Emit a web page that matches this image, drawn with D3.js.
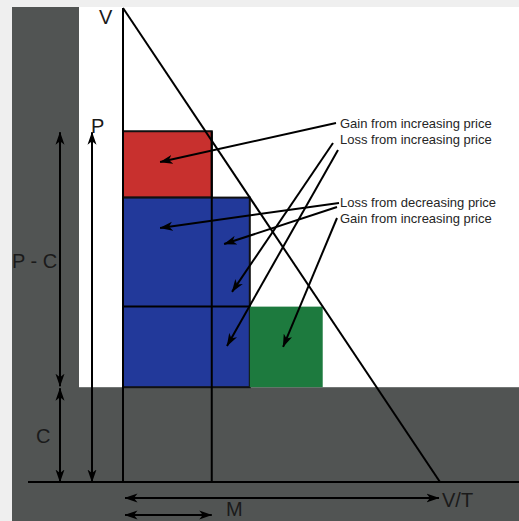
<!DOCTYPE html>
<html>
<head>
<meta charset="utf-8">
<script src="https://cdn.jsdelivr.net/npm/d3@7"></script>
<style>
  html, body { margin: 0; padding: 0; background: #efefef; }
  svg { display: block; }
  text { font-family: "Liberation Sans", Arial, sans-serif; }
</style>
</head>
<body>
<svg id="chart" width="519" height="521"></svg>
<script>
// ---------- data ----------
const priceNames  = ["C", "P3", "P2", "P", "V"];
const priceValues = [20, 37, 60, 74, 100];

const quantityNames  = ["M", "Q2", "Q3", "V/T"];
const quantityValues = [28, 40, 63, 100];

const regionNames = ["gain", "margin", "extra"];
const regionQ0 = [0, 0, 40];
const regionQ1 = [28, 40, 63];
const regionP0 = [60, 20, 20];
const regionP1 = [74, 60, 37];

const annotationLabels = [
  "Gain from increasing price",
  "Loss from increasing price",
  "Loss from decreasing price",
  "Gain from increasing price"
];
const arrowTargetQ = [[11.7], [34.4, 32.8], [11.7, 31.9], [50.5]];
const arrowTargetP = [[67.5], [40.1, 28.7], [53.6, 50.2], [28.5]];

// ---------- styles / layout ----------
const regionColors = ["#c8302e", "#22399a", "#1d7a3e"];
const regionStroke = ["#111", "#111", "none"];
const annotationBaselines = [128, 144, 207, 223];
const arrowStartOffsets = [[[-4, -5]], [[-7, -1], [-2, 6]], [[-1, -4], [-3, 0]], [[-3, -5]]];

const P = Object.fromEntries(priceNames.map((n, i) => [n, priceValues[i]]));
const Q = Object.fromEntries(quantityNames.map((n, i) => [n, quantityValues[i]]));

const svg = d3.select("#chart");
const x = d3.scaleLinear().domain([0, 100]).range([123, 440]);
const y = d3.scaleLinear().domain([0, 100]).range([482, 8]);

// arrow marker
const defs = svg.append("defs");
defs.append("marker")
  .attr("id", "arrow")
  .attr("viewBox", "0 -5 13 10")
  .attr("refX", 12.5).attr("refY", 0)
  .attr("markerWidth", 13).attr("markerHeight", 10)
  .attr("markerUnits", "userSpaceOnUse")
  .attr("orient", "auto-start-reverse")
  .append("path")
  .attr("d", "M0,-4.5 L13,0 L0,4.5 L3.5,0 Z")
  .attr("fill", "#000");

// backgrounds
svg.append("rect").attr("x", 0).attr("y", 0).attr("width", 519).attr("height", 521).attr("fill", "#efefef");
svg.append("rect").attr("x", 12).attr("y", 7).attr("width", 507).attr("height", 514).attr("fill", "#515453");
svg.append("rect").attr("x", 79).attr("y", 7).attr("width", 440).attr("height", y(P.C) - 7).attr("fill", "#ffffff");

// regions
const regions = regionNames.map((n, i) => ({ n, q0: regionQ0[i], q1: regionQ1[i], p0: regionP0[i], p1: regionP1[i], i }));
svg.selectAll("rect.region").data(regions).enter().append("rect")
  .attr("class", "region")
  .attr("x", d => x(d.q0))
  .attr("y", d => y(d.p1))
  .attr("width", d => x(d.q1) - x(d.q0))
  .attr("height", d => y(d.p0) - y(d.p1))
  .attr("fill", d => regionColors[d.i])
  .attr("stroke", d => regionStroke[d.i])
  .attr("stroke-width", 2);

const lines = svg.append("g").attr("stroke", "#000").attr("stroke-width", 2).attr("fill", "none");
// middle line within blue
lines.append("line").attr("x1", x(0)).attr("x2", x(Q.Q2)).attr("y1", y(P.P3)).attr("y2", y(P.P3));
// vertical at M
lines.append("line").attr("x1", x(Q.M)).attr("x2", x(Q.M)).attr("y1", y(P.P)).attr("y2", y(0));
// vertical axis
lines.append("line").attr("x1", x(0)).attr("x2", x(0)).attr("y1", y(P.V)).attr("y2", y(0));
// baseline
lines.append("line").attr("x1", 28).attr("x2", 519).attr("y1", y(0)).attr("y2", y(0));
// demand line
lines.append("line").attr("x1", x(0)).attr("y1", y(P.V)).attr("x2", x(Q["V/T"])).attr("y2", y(0));

// dimension arrows
const dim = svg.append("g").attr("stroke", "#000").attr("stroke-width", 2)
  .attr("marker-start", "url(#arrow)").attr("marker-end", "url(#arrow)");
dim.append("line").attr("x1", 60).attr("x2", 60).attr("y1", y(P.P) + 1).attr("y2", y(P.C) - 1);
dim.append("line").attr("x1", 60).attr("x2", 60).attr("y1", y(P.C) + 1).attr("y2", y(0));
dim.append("line").attr("x1", 92).attr("x2", 92).attr("y1", y(P.P) + 1).attr("y2", y(0));
dim.append("line").attr("x1", x(0) + 2).attr("x2", x(Q["V/T"]) - 1).attr("y1", 498).attr("y2", 498);
dim.append("line").attr("x1", x(0) + 2).attr("x2", x(Q.M)).attr("y1", 515).attr("y2", 515);

// big labels
const big = svg.append("g").attr("font-size", 20).attr("fill", "#1a1a1a");
big.append("text").attr("x", 99).attr("y", 24).text("V");
big.append("text").attr("x", 91).attr("y", 133).text("P");
big.append("text").attr("x", 12).attr("y", 268).text("P - C");
big.append("text").attr("x", 36).attr("y", 443).text("C");
big.append("text").attr("x", 226).attr("y", 516).text("M");
big.append("text").attr("x", 442).attr("y", 507).text("V/T");

// annotations
const ann = svg.append("g");
annotationLabels.forEach((label, i) => {
  ann.append("text").attr("x", 340).attr("y", annotationBaselines[i])
    .attr("font-size", 13).attr("fill", "#262626").text(label);
  arrowTargetQ[i].forEach((tq, j) => {
    const off = arrowStartOffsets[i][j];
    ann.append("line")
      .attr("x1", 340 + off[0]).attr("y1", annotationBaselines[i] + off[1])
      .attr("x2", x(tq)).attr("y2", y(arrowTargetP[i][j]))
      .attr("stroke", "#000").attr("stroke-width", 2)
      .attr("marker-end", "url(#arrow)");
  });
});
</script>
</body>
</html>
